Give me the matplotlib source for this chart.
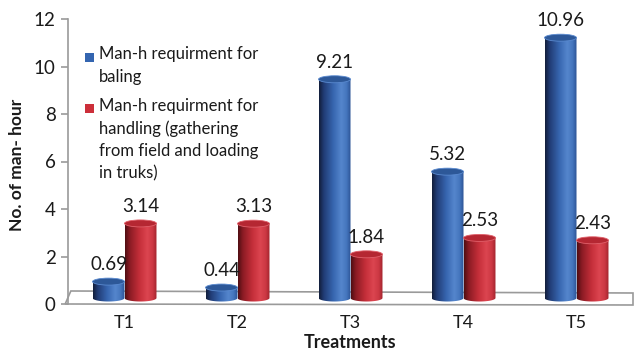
import numpy as np
import matplotlib
matplotlib.use("Agg")
import matplotlib.pyplot as plt
from matplotlib.patches import Polygon, Ellipse, Rectangle
from matplotlib.colors import LinearSegmentedColormap
import matplotlib.transforms as mtransforms

plt.rcParams['font.family'] = ['Lato', 'DejaVu Sans']

categories = ["T1", "T2", "T3", "T4", "T5"]
baling = [0.69, 0.44, 9.21, 5.32, 10.96]
handling = [3.14, 3.13, 1.84, 2.53, 2.43]
series_names = ["Man-h requirment for\nbaling",
                "Man-h requirment for\nhandling (gathering\nfrom field and loading\nin truks)"]
y_ticks = [0, 2, 4, 6, 8, 10, 12]

W, H = 635, 350
fig = plt.figure(figsize=(W / 100, H / 100), dpi=100)
ax_left, ax_right, ax_top, ax_bottom = 68, 633, 19, 304
ax = fig.add_axes([ax_left / W, 1 - ax_bottom / H,
                   (ax_right - ax_left) / W, (ax_bottom - ax_top) / H])
ax.set_xlim(-0.5, 4.5)
ax.set_ylim(0, 12)
ax.patch.set_alpha(0)

# cylinders stand a little behind the front edge of the floor
depth = mtransforms.offset_copy(ax.transData, fig=fig, x=0, y=6, units='dots')

blue_cmap = LinearSegmentedColormap.from_list("blue_cyl", [
    (0.0, "#121d3a"), (0.15, "#213c75"), (0.45, "#3766b0"),
    (0.7, "#5586cd"), (0.87, "#4475bd"), (1.0, "#2b5193")])
red_cmap = LinearSegmentedColormap.from_list("red_cyl", [
    (0.0, "#4e0d12"), (0.15, "#8a1b24"), (0.45, "#c42e39"),
    (0.7, "#dc4550"), (0.87, "#cc3843"), (1.0, "#a0232d")])
tops = {"blue": ("#2d5898", "#5a8ad0"), "red": ("#b52732", "#e0606a")}

bar_w = 0.283
px_per_unit = (ax_bottom - ax_top) / 12
ell_h = 7 / px_per_unit
grad = np.linspace(0, 1, 256).reshape(1, -1)


def cylinder(xc, v, cmap, top_colors):
    x0, x1 = xc - bar_w / 2, xc + bar_w / 2
    t = np.linspace(0, -np.pi, 60)
    bottom = np.column_stack([xc + bar_w / 2 * np.cos(t), ell_h / 2 * np.sin(t)])
    pts = np.vstack([[(x0, v), (x1, v), (x1, 0)], bottom])
    body = Polygon(pts, closed=True, facecolor="none", edgecolor="none",
                   transform=depth)
    ax.add_patch(body)
    im = ax.imshow(grad, cmap=cmap, aspect="auto", interpolation="bilinear",
                   extent=(x0, x1, -ell_h, v + ell_h), zorder=2)
    im.set_transform(depth)
    im.set_clip_path(body)
    ax.add_patch(Ellipse((xc, v), bar_w, ell_h, facecolor=top_colors[0],
                         edgecolor=top_colors[1], lw=0.6, transform=depth, zorder=3))


# floor plane
floor = Polygon([(-0.005, 0.0), (0.005, 13 / 285), (1.0, 11 / 285), (1.0, -1 / 285)],
                closed=True, facecolor="white", edgecolor="#9a9a9a", lw=1.2,
                transform=ax.transAxes, clip_on=False, zorder=1)
ax.add_patch(floor)

x = np.arange(len(categories))
for i in range(len(categories)):
    cylinder(x[i] - bar_w / 2, baling[i], blue_cmap, tops["blue"])
    cylinder(x[i] + bar_w / 2, handling[i], red_cmap, tops["red"])

label_font = dict(fontsize=13.5, color="#1a1a1a", ha="center", va="center")
for i in range(len(categories)):
    for xc, v in ((x[i] - bar_w / 2, baling[i]), (x[i] + bar_w / 2, handling[i])):
        ax.annotate(f"{v:.2f}", (xc, v), xytext=(0, 17), textcoords="offset pixels",
                    xycoords=depth, **label_font)

# axes styling
for s in ("top", "right", "bottom"):
    ax.spines[s].set_visible(False)
ax.spines["left"].set_color("#9a9a9a")
ax.spines["left"].set_linewidth(1.2)
ax.set_yticks(y_ticks)
ax.set_yticklabels([str(v) for v in y_ticks], fontsize=13.5, color="#1a1a1a")
ax.tick_params(axis="y", direction="out", length=5, width=1.2, color="#9a9a9a", pad=4)
ax.set_xticks(x)
ax.set_xticklabels(categories, fontsize=13, color="#1a1a1a")
ax.tick_params(axis="x", length=0, pad=8)

fig.text(17 / W, 1 - 165 / H, "No. of man- hour", rotation=90, fontsize=12.5,
         fontweight="bold", ha="center", va="center", color="#1a1a1a")
fig.text(350 / W, 1 - 343 / H, "Treatments", fontsize=13, fontweight="bold",
         ha="center", va="center", color="#1a1a1a")

# legend
leg_items = [(57, "#3465b0"), (108, "#cc2f3a")]
for (yc, col), name in zip(leg_items, series_names):
    fig.patches.append(Rectangle((85 / W, 1 - (yc + 4.5) / H), 9 / W, 9 / H,
                                 facecolor=col, edgecolor="none",
                                 transform=fig.transFigure))
    fig.text(99 / W, 1 - (yc - 10.5) / H, name, fontsize=12, ha="left", va="top",
             linespacing=1.48, color="#1a1a1a")

fig.savefig("out.png", dpi=100, facecolor="white")
